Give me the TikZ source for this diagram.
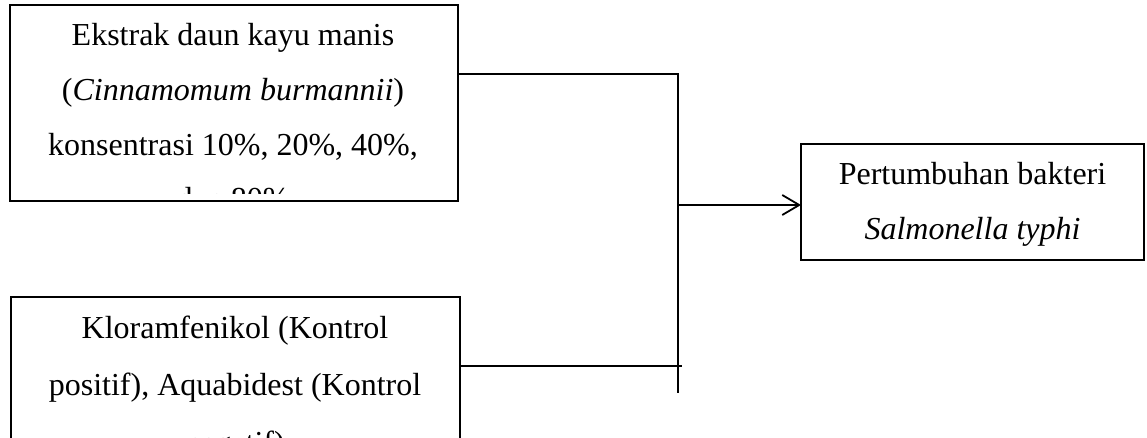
\documentclass[tikz,border=0pt]{standalone}
\usepackage{fontspec}
\setmainfont{Liberation Serif}
\usetikzlibrary{arrows.meta}
\begin{document}
\begin{tikzpicture}[x=1pt,y=-1pt,
  box/.style={draw, line width=2pt, inner sep=0pt, outer sep=0pt},
  txt/.style={anchor=base, inner sep=0pt, font=\fontsize{32}{55}\selectfont},
  wire/.style={line width=1.1pt},
  arrowline/.style={line width=1.8pt, -{Straight Barb[length=17pt,width=20pt]}}]
\clip (0,0) rectangle (1147,438);
% boxes
\node[box, minimum width=448pt, minimum height=196pt] (b1) at (234,103) {};
\node[box, minimum width=449pt, minimum height=183pt] (b2) at (235.5,388.5) {};
\node[box, minimum width=343pt, minimum height=116pt] (b3) at (972.5,202) {};
% texts, clipped by their boxes (inner margin as in the reference)
\begin{scope}
  \clip (b1.north west) rectangle ([yshift=7pt]b1.south east);
  \node[txt] (t1a) at (233,46) {Ekstrak daun kayu manis};
  \node[txt] (t1b) at (233,101) {(\textit{Cinnamomum burmannii})};
  \node[txt] (t1c) at (233,156) {konsentrasi 10\%, 20\%, 40\%,};
  \node[txt] (t1d) at (233,210) {dan 80\%};
\end{scope}
\begin{scope}
  \clip (b2.south west) rectangle (b2.north east);
  \node[txt] (t2a) at (235,338) {Kloramfenikol (Kontrol};
  \node[txt] (t2b) at (235,395) {positif), Aquabidest (Kontrol};
  \node[txt] (t2c) at (235,453) {negatif)};
\end{scope}
\node[txt] (t3a) at (972.5,185) {Pertumbuhan bakteri};
\node[txt] (t3b) at (972.5,240) {\textit{Salmonella typhi}};
% connectors
\coordinate (j1) at (678,74);
\coordinate (j2) at (678,393);
\coordinate (j3) at (682,366);
\coordinate (ja) at (678,205);
\draw[wire] (b1.east |- j1) -- (j1) -- (j2);
\draw[wire] (b2.east |- j3) -- (j3);
\draw[arrowline] (ja) -- (b3.west |- ja);
\end{tikzpicture}
\end{document}
